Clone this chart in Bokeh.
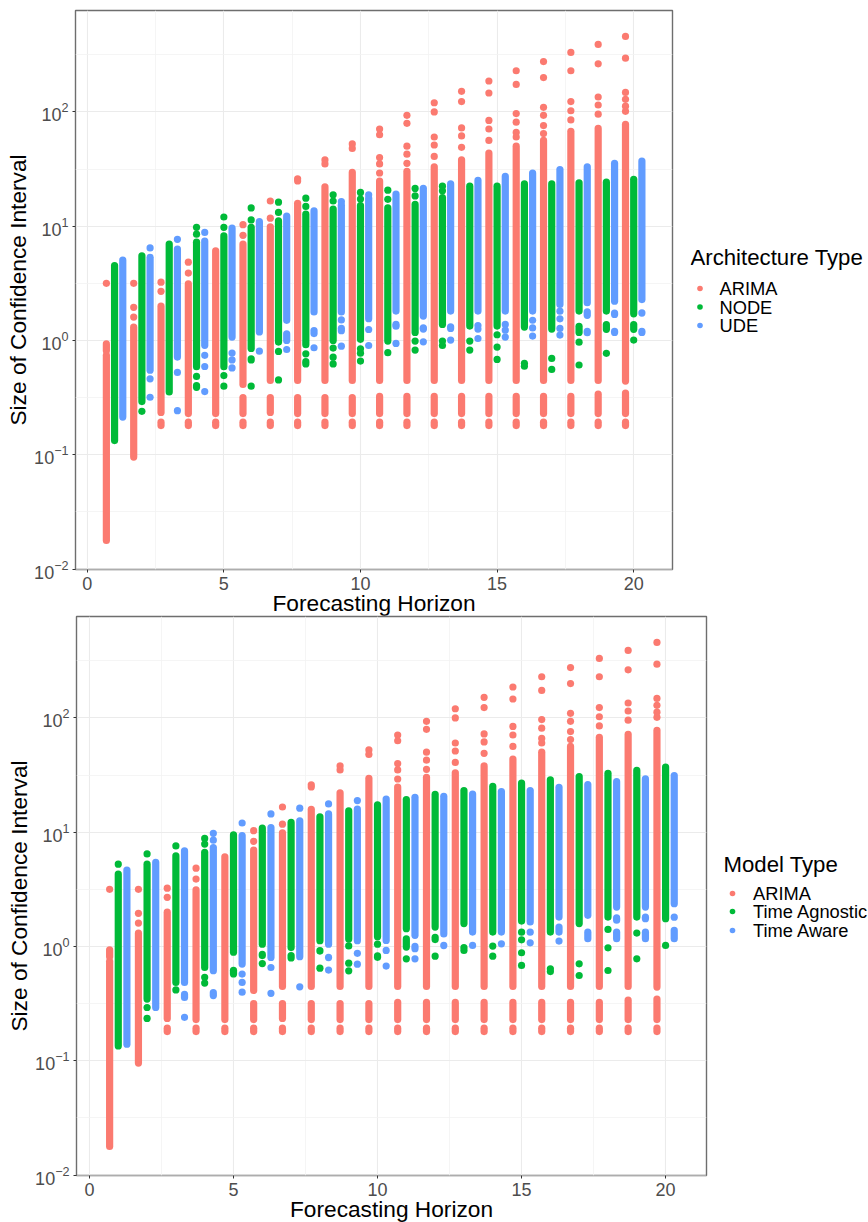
from bokeh.plotting import figure
from bokeh.models import Range1d, FixedTicker, ColumnDataSource, LogTickFormatter
from bokeh.core.properties import value
from bokeh.embed import file_html
from bokeh.resources import INLINE

HORIZONS = list(range(1, 21))
X_TICKS = [0, 5, 10, 15, 20]
X_MINOR = [2.5, 7.5, 12.5, 17.5]
Y_TICKS = [1e-2, 1e-1, 1e0, 1e1, 1e2]
Y_MINOR = [10**-1.5, 10**-0.5, 10**0.5, 10**1.5, 10**2.5]

# All values are log10(size of confidence interval).
# *_BANDS: the solid runs of overlapping points, per horizon, as (low, high).
# *_POINTS: the separately visible points, per horizon.
A_LOW = (-.745, -.715)
ARIMA_BANDS = [
    [(-1.75, -.13), (-.09, -.03)], [(-1.02, .116)], [(-.63, .30), A_LOW], [(-.64, .495), A_LOW],
    [(-.64, .785), A_LOW], [(-.385, .843), (-.64, -.50), A_LOW], [(-.35, .995), (-.63, -.50), A_LOW],
    [(-.35, 1.20), (-.64, -.50), A_LOW], [(-.35, 1.345), (-.64, -.50), A_LOW], [(-.35, 1.47), (-.64, -.50), A_LOW],
    [(-.35, 1.395), (-.64, -.49), A_LOW], [(-.35, 1.48), (-.64, -.49), A_LOW], [(-.35, 1.52), (-.64, -.49), A_LOW],
    [(-.35, 1.58), (-.64, -.49), A_LOW], [(-.35, 1.64), (-.64, -.49), A_LOW], [(-.35, 1.70), (-.64, -.49), A_LOW],
    [(-.35, 1.75), (-.64, -.49), A_LOW], [(-.35, 1.83), (-.64, -.49), A_LOW], [(-.35, 1.855), (-.64, -.47), A_LOW],
    [(-.355, 1.89), (-.64, -.46), A_LOW],
]
ARIMA_POINTS = [
    [.50], [.50, .29, .205], [.51, .43], [.685, .59], [], [1.013, .92], [1.22, 1.07], [1.415, 1.395],
    [1.58, 1.545], [1.72, 1.68], [1.85, 1.80, 1.60, 1.545, 1.465], [1.97, 1.90, 1.70, 1.63, 1.55],
    [2.08, 2.00, 1.78, 1.71, 1.61], [2.18, 2.09, 1.86, 1.79, 1.69], [2.27, 2.165, 1.925, 1.85, 1.75],
    [2.36, 2.24, 1.985, 1.91, 1.82, 1.78], [2.44, 2.30, 2.04, 1.97, 1.88, 1.81],
    [2.52, 2.36, 2.09, 2.01, 1.93], [2.59, 2.42, 2.13, 2.06, 1.98], [2.66, 2.47, 2.17, 2.11, 2.05, 2.005],
]

NODE_BANDS = [
    [(-.876, .655)], [(-.535, .74)], [(-.45, .843)], [(-.23, .86), (-.41, -.395)], [(-.23, .915)],
    [(-.07, .99), (-.17, -.16)], [(-.014, 1.047)], [(-.037, 1.105)], [(0, 1.15)], [(.01, 1.18)],
    [(-.005, 1.16)], [(.07, 1.19)], [(.14, 1.25)], [(.126, 1.35)], [(.126, 1.35)], [(.117, 1.37)],
    [(.10, 1.37)], [(.257, 1.38), (.07, .124)], [(.257, 1.385), (.097, .139)], [(.233, 1.41), (.097, .139)],
]
NODE_POINTS = [
    [], [-.62], [], [.99, .93, -.315], [1.08, .99, -.307, -.40], [1.16, 1.055, -.40], [1.21, 1.12, -.096, -.345],
    [1.245, 1.173, -.117, -.184, -.205], [1.275, 1.22, -.067, -.146, -.205], [1.295, 1.237, -.073, -.111, -.18],
    [1.315, 1.235, -.107], [1.33, 1.265, -.005, -.084], [1.35, 1.31, -.005, -.044], [-.005, -.084],
    [.05, -.058, -.166], [-.2, -.225], [-.157, -.253], [-.015, -.215], [-.113], [.003],
]

UDE_BANDS = [
    [(-.67, .703)], [(-.26, .727)], [(-.145, .80)], [(-.043, .87)], [(.03, .983)], [(.074, 1.04)],
    [(.176, 1.088), (0, .058)], [(.25, 1.135), (.06, .087)], [(.25, 1.184)], [(.19, 1.245)], [(.257, 1.28)],
    [(.213, 1.33)], [(.257, 1.37)], [(.257, 1.40)], [(.257, 1.435)], [(.257, 1.465)], [(.315, 1.495)],
    [(.33, 1.52), (.22, .25), (.068, .08)], [(.344, 1.55), (.228, .24), (.07, .08)],
    [(.358, 1.57), (.24, .242), (.07, .08)],
]
UDE_POINTS = [
    [], [.81, -.336, -.497], [.885, -.28, -.614], [.945, -.13, -.228, -.447], [-.11, -.17, -.24], [-.094],
    [-.079], [-.064], [1.214, .18, .105, .085, -.05], [1.275, .096, -.044], [.14, .125, -.026],
    [.11, .10, -.012], [.12, .105, .003], [.13, .10, .017], [.14, .09, .03], [.177, .11, .038],
    [.256, .189, .105, .047], [], [], [],
]

AGNOSTIC_BANDS = [
    [(-.87, .633)], [(-.46, .72)], [(-.315, .793)], [(-.183, .823)], [(-.05, .977), (-.24, -.208)],
    [(.02, 1.036), (-.08, -.07)], [(-.01, 1.085), (-.10, -.08)], [(.05, 1.135), (-.04, -.037)],
    [(.065, 1.187)], [(.085, 1.24), (-.095, -.083)], [(.155, 1.285), (-.005, .066)], [(.17, 1.33), (.06, .08)],
    [(.2, 1.364)], [(.126, 1.40)], [(.222, 1.43), (.125, .126)], [(.126, 1.457)], [(.2, 1.486)],
    [(.257, 1.515)], [(.257, 1.54)], [(.243, 1.57)],
]
AGNOSTIC_POINTS = [
    [.72], [.81, -.534, -.63], [.88, -.38], [.945, .896, -.27, -.32], [], [-.15], [], [-.19],
    [.005, -.146, -.213], [.02], [-.108], [-.085], [-.01, -.035], [.003, -.085], [.058, -.055, -.166],
    [-.195, -.22], [-.152, -.254], [.149, -.012, -.21], [.117, -.108], [.009],
]

AWARE_BANDS = [
    [(-.855, .668)], [(-.533, .735)], [(-.315, .837), (-.446, -.42)], [(-.212, .866), (-.43, -.404)],
    [(-.154, .97)], [(-.096, 1.04)], [(-.09, 1.10)], [(.02, 1.16), (-.097, -.096)], [(.05, 1.202)],
    [(.053, 1.29)], [(.097, 1.305)], [(.11, 1.314), (.008, .01)], [(.126, 1.334)], [(.126, 1.355)],
    [(.214, 1.364), (.125, .126)], [(.257, 1.393), (.126, .17)], [(.272, 1.416), (.068, .125)],
    [(.345, 1.442), (.23, .25), (.068, .125)], [(.345, 1.466), (.243, .256), (.068, .125)],
    [(.374, 1.495), (.256, .257), (.068, .14)],
]
AWARE_POINTS = [
    [], [], [-.62], [.99, .93], [1.08, -.242, -.315, -.40], [1.16, -.184, -.41], [1.21, -.353], [1.247, -.207],
    [1.276, -.06, -.155], [-.035, -.172], [0.0, -.02, -.108], [], [.009], [.023], [.032], [.047], [], [], [], [],
]

RED, GREEN, BLUE = "#FB7A70", "#00BA38", "#619CFF"
COLORS = [RED, GREEN, BLUE]
OFFSETS = [-0.3, 0.0, 0.3]
FONT = "Liberation Sans"
DOT = 7.2


def panel(series, frame_w, left, top_border, xr):
    p = figure(frame_width=frame_w, frame_height=559, y_axis_type="log",
               output_backend="svg", toolbar_location=None,
               x_range=Range1d(*xr), y_range=Range1d(10**-2.004, 10**2.887),
               min_border_left=left, min_border_right=868 - left - frame_w, min_border_top=top_border,
               min_border_bottom=40, background_fill_color="white", border_fill_color="white")
    p.outline_line_color = "#6E6E6E"
    p.outline_line_width = 1.4
    p.xgrid.ticker = FixedTicker(ticks=X_TICKS, minor_ticks=X_MINOR)
    p.ygrid.ticker = FixedTicker(ticks=Y_TICKS, minor_ticks=Y_MINOR)
    for g in (p.xgrid[0], p.ygrid[0]):
        g.grid_line_color = "#EBEBEB"
        g.grid_line_width = 1.1
        g.minor_grid_line_color = "#F3F3F3"
        g.minor_grid_line_width = 0.8
    p.xaxis.ticker = FixedTicker(ticks=X_TICKS)
    p.yaxis.ticker = FixedTicker(ticks=Y_TICKS)
    p.yaxis.formatter = LogTickFormatter()
    for ax in (p.xaxis[0], p.yaxis[0]):
        ax.axis_line_color = None
        ax.major_tick_line_color = "#333333"
        ax.major_tick_line_width = 1
        ax.major_tick_in = 0
        ax.major_tick_out = 3
        ax.minor_tick_line_color = None
        ax.major_label_text_font = FONT
        ax.major_label_text_font_size = "18px"
        ax.major_label_text_color = "#4D4D4D"
        ax.major_label_standoff = 4
        ax.axis_label_text_font = FONT
        ax.axis_label_text_font_size = "22.7px"
        ax.axis_label_text_font_style = "normal"
        ax.axis_label_text_color = "#000000"
    p.xaxis.axis_label = "Forecasting Horizon"
    p.yaxis.axis_label = "Size of Confidence Interval"
    p.xaxis.axis_label_standoff = -3
    p.yaxis.axis_label_standoff = 0

    for (bands, points, color), off in zip(series, OFFSETS):
        bx, lo, hi = [], [], []
        for h, row in zip(HORIZONS, bands):
            for a, b in row:
                bx.append(h + off)
                lo.append(10**a)
                hi.append(10**b)
        px, py = [], []
        for h, row in zip(HORIZONS, points):
            for v in row:
                px.append(h + off)
                py.append(10**v)
        p.segment(x0="x", x1="x", y0="lo", y1="hi", source=ColumnDataSource(dict(x=bx, lo=lo, hi=hi)),
                  line_color=color, line_width=DOT, line_cap="round")
        p.scatter(x="x", y="y", source=ColumnDataSource(dict(x=px, y=py)), size=DOT,
                  fill_color=color, line_color=None)
    return p


def legend_panel(title, names, x_left, rows, dot_x, label_x, margin_top):
    """A transparent key laid over the page to the right of the panel (pixel layout: origin top-left)."""
    w, h = 868 - x_left, 100
    lg = figure(width=w, height=h, output_backend="svg", toolbar_location=None,
                margin=(margin_top, 0, 272, x_left), x_range=Range1d(0, w), y_range=Range1d(h, 0),
                min_border=0, background_fill_alpha=0, border_fill_alpha=0, outline_line_color=None)
    lg.axis.visible = False
    lg.grid.visible = False
    lg.text(x=[0], y=[14], text=[title], text_font=value(FONT), text_font_size="22.2px",
            text_baseline="middle", text_color="#000000")
    lg.scatter(x=[dot_x] * 3, y=rows, size=5.6, fill_color=COLORS, line_color=None)
    lg.text(x=[label_x] * 3, y=rows, text=names, text_font=value(FONT), text_font_size="18.3px",
            text_baseline="middle", text_color="#000000")
    return lg


top = panel([(ARIMA_BANDS, ARIMA_POINTS, RED), (NODE_BANDS, NODE_POINTS, GREEN), (UDE_BANDS, UDE_POINTS, BLUE)],
            597, 75, 10, (-0.43, 21.42))
top_key = legend_panel("Architecture Type", ["ARIMA", "NODE", "UDE"], 690, [45, 63.5, 82], 9.5, 29, -375)
bottom = panel([(ARIMA_BANDS, ARIMA_POINTS, RED), (AGNOSTIC_BANDS, AGNOSTIC_POINTS, GREEN), (AWARE_BANDS, AWARE_POINTS, BLUE)],
               630, 76, 1, (-0.45, 21.42))
bottom_key = legend_panel("Model Type", ["ARIMA", "Time Agnostic", "Time Aware"], 723, [43, 61, 80], 9, 29.5, -374)

open("out.html", "w").write(file_html([top, top_key, bottom, bottom_key], INLINE))
